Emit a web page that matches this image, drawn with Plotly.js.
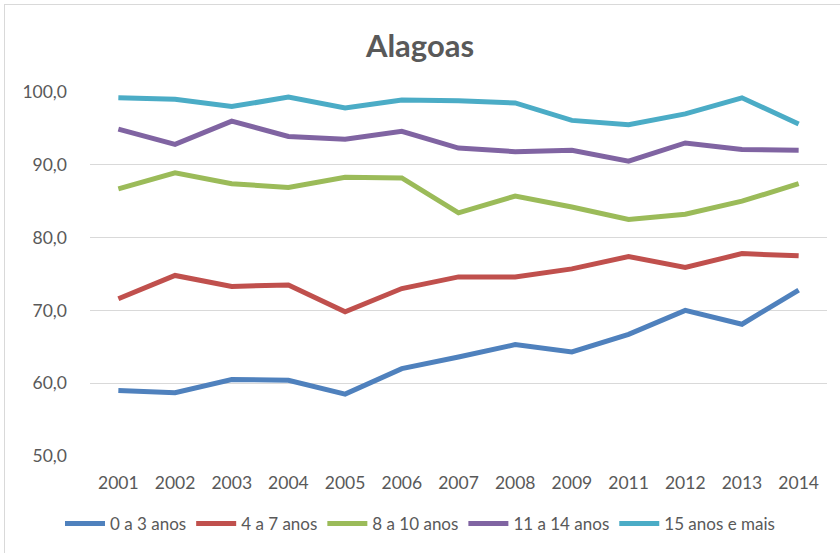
<!DOCTYPE html>
<html>
<head>
<meta charset="utf-8">
<script src="https://cdn.plot.ly/plotly-3.0.1.min.js"></script>
<style>
  html, body { margin: 0; padding: 0; background: #fff; }
  #wrap { position: relative; width: 840px; height: 553px; overflow: hidden; }
  #frame { position: absolute; left: 4px; top: 4px; width: 900px; height: 600px; border-left: 1.5px solid #d9d9d9; border-top: 1.5px solid #d9d9d9; pointer-events: none; }
  #chart { position: absolute; left: 0; top: 0; width: 840px; height: 553px; }
</style>
</head>
<body>
<div id="wrap">
  <div id="chart"></div>
  <div id="frame"></div>
</div>
<script>
const years = ["2001","2002","2003","2004","2005","2006","2007","2008","2009","2011","2012","2013","2014"];
const seriesNames = ["0 a 3 anos","4 a 7 anos","8 a 10 anos","11 a 14 anos","15 anos e mais"];
const age0to3   = [59.0, 58.7, 60.5, 60.4, 58.5, 62.0, 63.6, 65.3, 64.3, 66.7, 70.0, 68.1, 72.8];
const age4to7   = [71.6, 74.8, 73.3, 73.5, 69.8, 73.0, 74.6, 74.6, 75.7, 77.4, 75.9, 77.8, 77.5];
const age8to10  = [86.7, 88.9, 87.4, 86.9, 88.3, 88.2, 83.4, 85.7, 84.2, 82.5, 83.2, 85.0, 87.4];
const age11to14 = [94.9, 92.8, 96.0, 93.9, 93.5, 94.6, 92.3, 91.8, 92.0, 90.5, 93.0, 92.1, 92.0];
const age15plus = [99.2, 99.0, 98.0, 99.3, 97.8, 98.9, 98.8, 98.5, 96.1, 95.5, 97.0, 99.2, 95.6];
const colors = ["#4F81BD","#C0504D","#9BBB59","#8064A2","#4BACC6"];

const allValues = [age0to3, age4to7, age8to10, age11to14, age15plus];
const traces = allValues.map((vals, i) => ({
  type: "scatter",
  mode: "lines",
  x: years,
  y: vals,
  name: seriesNames[i],
  line: { color: colors[i], width: 5 },
  hoverinfo: "skip"
}));

const font = "Lato, 'Open Sans', 'Noto Sans', sans-serif";
const layout = {
  width: 840,
  height: 553,
  paper_bgcolor: "#ffffff",
  plot_bgcolor: "#ffffff",
  margin: { l: 90, r: 13, t: 91.5, b: 97.3, pad: 0, autoexpand: false },
  title: {
    text: "<b>Alagoas</b>",
    font: { family: font, size: 31, color: "#595959" },
    x: 0.5, xanchor: "center",
    y: 1 - 46 / 553, yref: "container", yanchor: "middle"
  },
  xaxis: {
    type: "category",
    range: [-0.5, years.length - 0.5],
    showgrid: false,
    zeroline: false,
    showline: false,
    ticks: "",
    ticklabelstandoff: 14,
    tickfont: { family: font, size: 17.5, color: "#595959" },
    fixedrange: true
  },
  yaxis: {
    range: [50, 100],
    tick0: 50,
    dtick: 10,
    tickformat: ".1f",
    showgrid: true,
    gridcolor: "#d9d9d9",
    gridwidth: 1.2,
    zeroline: false,
    showline: false,
    ticks: "",
    ticklabelstandoff: 22,
    tickfont: { family: font, size: 17.5, color: "#595959" },
    fixedrange: true
  },
  separators: ",.",
  showlegend: true,
  legend: {
    orientation: "h",
    xref: "container",
    yref: "container",
    x: 0.5, xanchor: "center",
    y: 1 - 524 / 553, yanchor: "middle",
    font: { family: font, size: 17, color: "#595959" },
    itemwidth: 40,
    tracegroupgap: 0,
    bgcolor: "rgba(0,0,0,0)"
  }
};

Plotly.newPlot("chart", traces, layout, { displayModeBar: false, staticPlot: true });
</script>
</body>
</html>
